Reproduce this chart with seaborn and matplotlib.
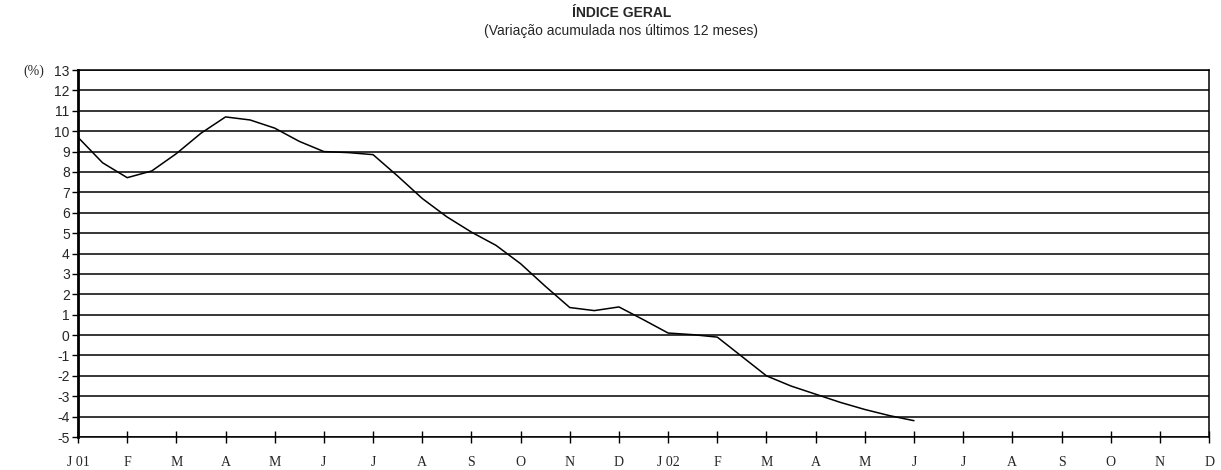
import numpy as np
import pandas as pd
import seaborn as sns
import matplotlib.pyplot as plt

# meses do eixo (categorias)
meses = ["J 01", "F", "M", "A", "M", "J", "J", "A", "S", "O", "N", "D",
         "J 02", "F", "M", "A", "M", "J", "J", "A", "S", "O", "N", "D"]

# posição em meses (quinzenal) e variação acumulada em 12 meses (%)
posicao = [0, 0.5, 1, 1.5, 2, 2.5, 3, 3.5, 4, 4.5, 5, 5.5, 6, 6.5, 7, 7.5,
           8, 8.5, 9, 9.5, 10, 10.5, 11, 11.5, 12, 12.5, 13, 13.5, 14,
           14.5, 15, 15.5, 16, 16.5, 17]
variacao = [9.7, 8.45, 7.72, 8.05, 8.9, 9.9, 10.7, 10.55, 10.15, 9.5, 9.0,
            8.95, 8.85, 7.8, 6.7, 5.8, 5.05, 4.4, 3.5, 2.4, 1.35, 1.2, 1.38,
            0.75, 0.1, 0.02, -0.1, -1.05, -2.0, -2.5, -2.9, -3.3, -3.65,
            -3.95, -4.2]

y_ticks = list(range(-5, 14))

df = pd.DataFrame({"pos": posicao, "var": variacao})

sns.set_style("white")
plt.rcParams["font.family"] = ["Liberation Sans", "DejaVu Sans"]

fig = plt.figure(figsize=(12.21, 4.70), dpi=100)
ax = fig.add_axes([0.0639, 0.0702, 0.9263, 0.7808])

sns.lineplot(data=df, x="pos", y="var", color="black", linewidth=1.1, ax=ax)

ax.set_xlim(0, len(meses) - 1)
ax.set_ylim(-5, 13)
ax.set_yticks(y_ticks)
ax.set_yticklabels([str(v) for v in y_ticks], fontsize=10)
ax.set_xticks(range(len(meses)))
ax.set_xticklabels(meses, fontsize=10, family="Liberation Serif")
ax.set_xlabel("")
ax.set_ylabel("")

ax.grid(axis="y", color="black", linewidth=1.1)
ax.set_axisbelow(True)
for s in ax.spines.values():
    s.set_color("black")
    s.set_linewidth(1.1)
ax.spines["left"].set_linewidth(2)

ax.tick_params(axis="x", bottom=True, direction="inout", length=8, width=1,
               color="black", pad=10)
ax.tick_params(axis="y", left=True, direction="out", length=4, width=1,
               color="black", pad=2)

fig.text(0.509, 0.972, "ÍNDICE GERAL", ha="center", va="center",
         fontsize=10, fontweight="bold", fontstretch="condensed")
fig.text(0.509, 0.935, "(Variação acumulada nos últimos 12 meses)",
         ha="center", va="center", fontsize=10)
fig.text(0.028, 0.848, "(%)", ha="center", va="center", fontsize=10,
         family="Liberation Serif")

fig.savefig("out.png", dpi=100)
